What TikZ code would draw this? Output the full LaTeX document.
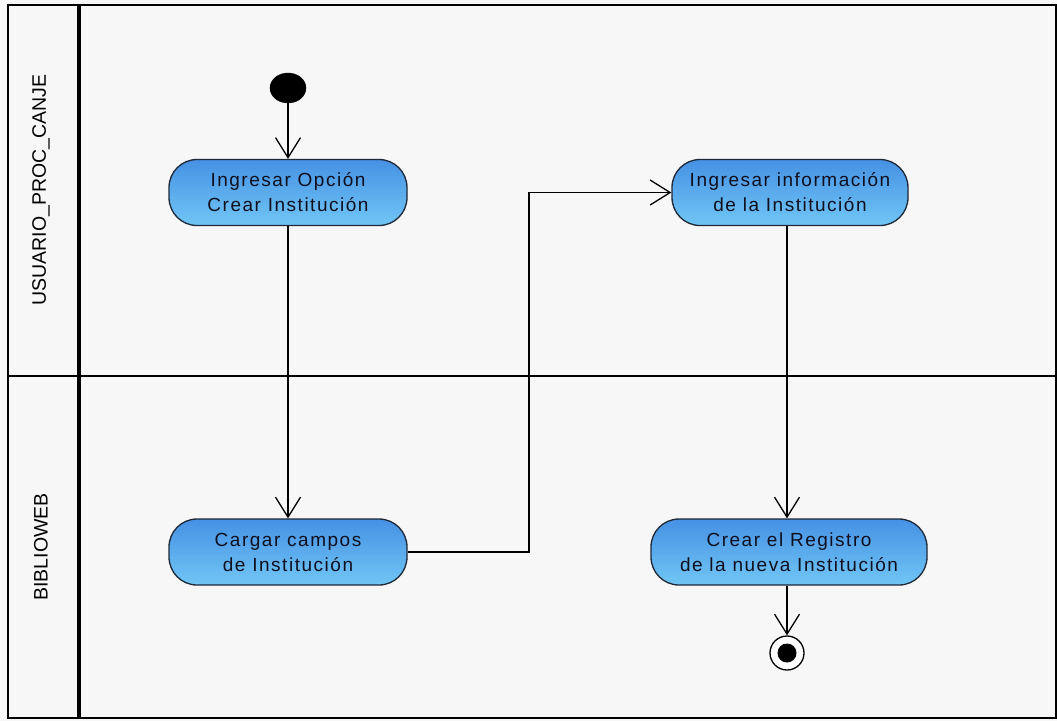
\documentclass[tikz,border=0pt]{standalone}
\usepackage{fontspec}
\setmainfont{Liberation Sans}
\newfontfamily\nodefont[LetterSpace=8]{Liberation Sans}
\usetikzlibrary{arrows.meta,shapes.geometric}
\definecolor{bgc}{RGB}{247,247,247}
\definecolor{actTop}{RGB}{70,145,228}
\definecolor{actBot}{RGB}{112,198,245}
\definecolor{actLine}{RGB}{30,40,55}
\definecolor{txt}{RGB}{15,15,30}
\tikzset{
  activity/.style={rectangle, rounded corners=28pt, draw=actLine, line width=1.3pt,
    top color=actTop, bottom color=actBot, minimum height=66pt, align=center,
    font=\nodefont\fontsize{19pt}{25pt}\selectfont, text=txt, inner sep=0pt},
  flow/.style={draw=black, line width=1.3pt, -{Straight Barb[length=20pt,width=25pt,line width=1.3pt]}},
  lane/.style={draw=black, line width=1.5pt},
  lanelabel/.style={rotate=90, font=\fontsize{19.5pt}{21pt}\selectfont, text=black}
}
\begin{document}
\begin{tikzpicture}[x=1pt,y=-1pt]
\useasboundingbox (0,0) rectangle (1057,721);
\fill[bgc] (0,0) rectangle (1057,721);
% swimlanes
\draw[lane] (8,5) rectangle (1056,718);
\draw[lane] (8,376) -- (1056,376);
\draw[draw=black, line width=4pt] (79,5) -- (79,718);
\node[lanelabel] (l1) at (41,190) {USUARIO\_PROC\_CANJE};
\node[lanelabel] (l2) at (41,547) {BIBLIOWEB};
% nodes
\node[ellipse, fill=black, draw=black, minimum width=36pt, minimum height=30pt, inner sep=0pt] (start) at (288,88) {};
\node[activity, minimum width=238pt] (n1) at (288,192.5) {Ingresar Opción\\Crear Institución};
\node[activity, minimum width=236pt] (n2) at (790,192.5) {Ingresar información\\de la Institución};
\node[activity, minimum width=238pt] (n3) at (288,552) {Cargar campos\\de Institución};
\node[activity, minimum width=276pt] (n4) at (789,552) {Crear el Registro\\de la nueva Institución};
\node[circle, draw=black, line width=1.3pt, fill=white, minimum size=34pt, inner sep=0pt] (end) at (787,653) {};
\node[circle, fill=black, minimum size=19pt, inner sep=0pt] (endin) at (end) {};
\coordinate (elbow) at (529,376);
% connectors
\draw[flow] (start) -- (n1);
\draw[flow] (n1) -- (n3);
\draw[flow] (n3.east) -| (elbow) |- (n2.west);
\draw[flow] (n2.south -| end) -- (n4.north -| end);
\draw[flow] (n4.south -| end) -- (end);
\end{tikzpicture}
\end{document}
